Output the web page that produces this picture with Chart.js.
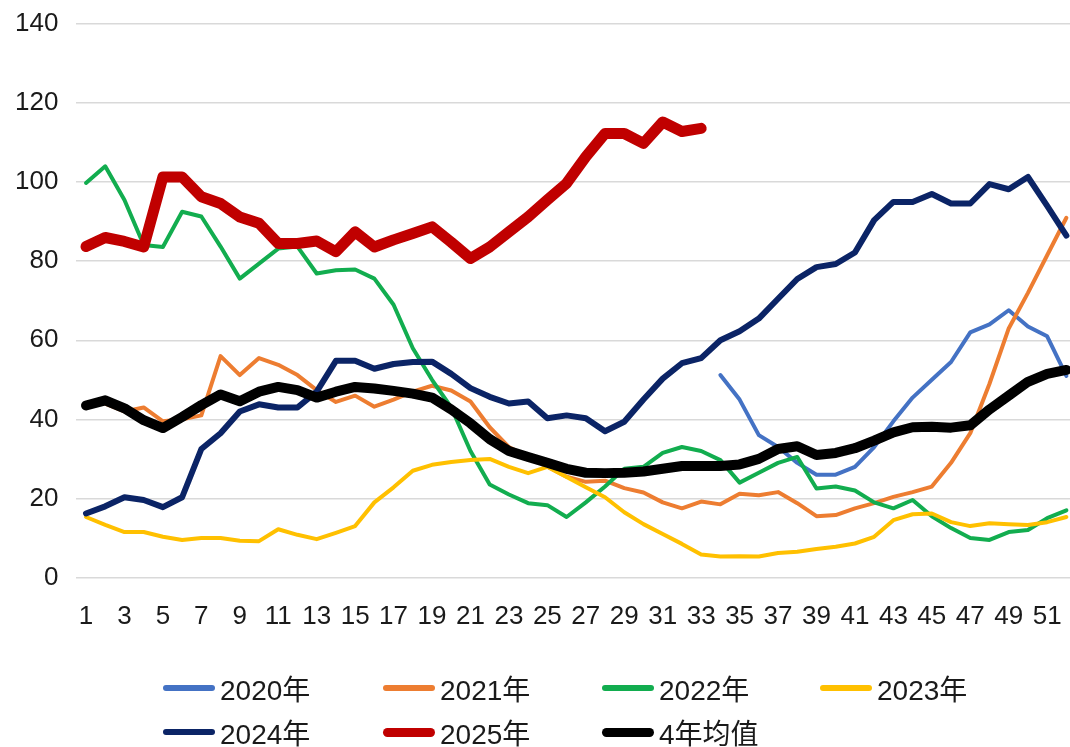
<!DOCTYPE html>
<html>
<head>
<meta charset="utf-8">
<script src="https://cdn.jsdelivr.net/npm/chart.js@4.4.1/dist/chart.umd.min.js"></script>
<style>
  html, body { margin: 0; padding: 0; background: #fff; overflow: hidden; }
  #wrap { position: relative; width: 1076px; height: 747px; }
  #chartBox { position: absolute; left: 0; top: 0; width: 1076px; height: 640px; }
  #legend { position: absolute; left: 0; top: 0; width: 1070px; height: 747px; pointer-events: none; }
  .item { position: absolute; display: flex; align-items: center; height: 36px;
          font-family: 'Liberation Sans', 'Noto Sans CJK SC', sans-serif;
          font-size: 28px; color: #1a1a1a; white-space: nowrap; }
  .swatch { width: 52px; border-radius: 6px; margin-right: 5px; }
</style>
</head>
<body>
<div id="wrap">
  <div id="chartBox"><canvas id="line"></canvas></div>
  <div id="legend"></div>
</div>
<script>
// weeks 1..52
const weeks = Array.from({ length: 52 }, (_, i) => String(i + 1));

const y2020 = [
  null, null, null, null, null, null, null, null, null, null,
  null, null, null, null, null, null, null, null, null, null,
  null, null, null, null, null, null, null, null, null, null,
  null, null, null, 51.2, 45, 36, 33, 29, 26, 26,
  28, 33, 39.5, 45.5, 50, 54.5, 62, 64, 67.6, 63.5,
  61, 51
];
const y2021 = [
  44, 44, 42, 43, 39.5, 40, 41, 56, 51.2, 55.5,
  53.8, 51.2, 47.4, 44.4, 46, 43.2, 45, 47, 48.5, 47.3,
  44.5, 38, 33, 30.5, 28, 25.5, 24.2, 24.5, 22.6, 21.5,
  19, 17.5, 19.2, 18.5, 21.2, 20.8, 21.6, 18.8, 15.5, 15.8,
  17.5, 18.8, 20.4, 21.6, 23, 29, 36.5, 49, 63, 72,
  81.5, 91
];
const y2022 = [
  99.8, 104, 95.5, 84.1, 83.6, 92.5, 91.3, 83.7, 75.6, 79.4,
  83.2, 83.7, 76.9, 77.7, 77.9, 75.6, 69, 58, 50, 43,
  32, 23.5, 21, 18.8, 18.3, 15.3, 19, 23, 27.5, 28,
  31.5, 33, 32, 29.7, 24, 26.5, 29, 30.5, 22.5, 23,
  22, 19, 17.5, 19.6, 15.5, 12.5, 10, 9.5, 11.5, 12,
  15, 17
];
const y2023 = [
  15.3, 13.3, 11.5, 11.5, 10.3, 9.5, 10, 10, 9.3, 9.2,
  12.2, 10.8, 9.7, 11.3, 13, 19, 22.8, 27, 28.5, 29.2,
  29.7, 30, 28, 26.4, 28, 25.4, 22.8, 20.3, 16.5, 13.5,
  11, 8.5, 5.8, 5.3, 5.4, 5.3, 6.2, 6.5, 7.2, 7.8,
  8.6, 10.3, 14.5, 16, 16.2, 14, 13, 13.7, 13.5, 13.3,
  14, 15.3
];
const y2024 = [
  16.2, 18, 20.3, 19.6, 17.8, 20.3, 32.5, 36.5, 42, 43.8,
  43, 43, 47, 54.8, 54.8, 52.8, 54, 54.5, 54.6, 51.5,
  47.9, 45.7, 44, 44.5, 40.3, 41, 40.3, 37, 39.4, 45,
  50.3, 54.2, 55.5, 60, 62.3, 65.5, 70.5, 75.5, 78.5, 79.3,
  82.2, 90.4, 95, 95, 97, 94.6, 94.6, 99.5, 98.2, 101.3,
  94, 86.5
];
const y2025 = [
  83.7, 86, 85, 83.6, 101.3, 101.3, 96.3, 94.6, 91.2, 89.6,
  84.5, 84.5, 85.1, 82.4, 87.4, 83.6, 85.4, 87, 88.7, 84.8,
  80.7, 83.6, 87.4, 91.2, 95.5, 99.7, 106.4, 112.3, 112.3, 109.8,
  115.2, 112.8, 113.6
];
const avg4 = [
  43.5, 44.8, 42.8, 39.8, 37.8, 40.6, 43.6, 46.3, 44.6, 47,
  48.2, 47.4, 45.5, 47, 48.2, 47.8, 47.2, 46.5, 45.5, 42.5,
  39, 35, 32, 30.5, 29, 27.5, 26.5, 26.4, 26.5, 26.8,
  27.5, 28.2, 28.2, 28.2, 28.6, 30, 32.5, 33.2, 31, 31.5,
  32.7, 34.6, 36.7, 38, 38.1, 37.9, 38.5, 42.5, 46, 49.5,
  51.5, 52.5
];
const yTicks = [0, 20, 40, 60, 80, 100, 120, 140];

const seriesNames = ['2020年', '2021年', '2022年', '2023年', '2024年', '2025年', '4年均值'];
const seriesData = [y2020, y2021, y2022, y2023, y2024, y2025, avg4];
const seriesColors = ['#4472C4', '#ED7D31', '#12AD4F', '#FFC000', '#0B2466', '#C00000', '#000000'];
const seriesWidths = [4, 4, 4, 4, 6, 11, 10];

const tickFont = { family: "'Liberation Sans', Arial, sans-serif", size: 26 };

const datasets = seriesNames.map((name, i) => ({
  label: name,
  data: seriesData[i],
  borderColor: seriesColors[i],
  backgroundColor: seriesColors[i],
  borderWidth: seriesWidths[i],
  pointRadius: 0,
  tension: 0,
  borderJoinStyle: 'round',
  borderCapStyle: 'round',
  spanGaps: false,
  order: seriesNames.length - i  // later series drawn on top, like Excel
}));

const chart = new Chart(document.getElementById('line').getContext('2d'), {
  type: 'line',
  data: { labels: weeks, datasets: datasets },
  options: {
    responsive: true,
    maintainAspectRatio: false,
    animation: false,
    layout: { padding: { top: 24, left: 0, right: 0, bottom: 0 } },
    plugins: {
      legend: { display: false },
      tooltip: { enabled: false }
    },
    scales: {
      x: {
        offset: true,
        grid: { display: false, drawTicks: false },
        border: { display: false },
        afterFit: (s) => { s.height = 62.5; s.paddingLeft = 0; s.paddingRight = 0; },
        ticks: {
          autoSkip: false,
          maxRotation: 0,
          padding: 24,
          color: '#1a1a1a',
          font: tickFont,
          callback: function (val, idx) { return idx % 2 === 0 ? weeks[idx] : ''; }
        }
      },
      y: {
        min: 0,
        max: 140,
        afterFit: (s) => { s.width = 76.4; s.paddingTop = 0; s.paddingBottom = 0; },
        afterBuildTicks: (s) => { s.ticks = yTicks.map(v => ({ value: v })); },
        grid: { color: '#d9d9d9', lineWidth: 1.5, drawTicks: false },
        border: { display: false },
        ticks: { padding: 18, color: '#1a1a1a', font: tickFont }
      }
    }
  }
});

// legend laid out in fixed columns like the original
const legendCols = [163, 383, 602, 820];
const legendRows = [688, 732];
const legendBox = document.getElementById('legend');
chart.data.datasets.forEach((ds, i) => {
  const item = document.createElement('div');
  item.className = 'item';
  item.style.left = legendCols[i % 4] + 'px';
  item.style.top = (legendRows[Math.floor(i / 4)] - 18) + 'px';
  const sw = document.createElement('span');
  sw.className = 'swatch';
  sw.style.height = Math.max(6, Math.min(ds.borderWidth, 9)) + 'px';
  sw.style.background = ds.borderColor;
  const tx = document.createElement('span');
  tx.textContent = ds.label;
  item.appendChild(sw);
  item.appendChild(tx);
  legendBox.appendChild(item);
});
</script>
</body>
</html>
